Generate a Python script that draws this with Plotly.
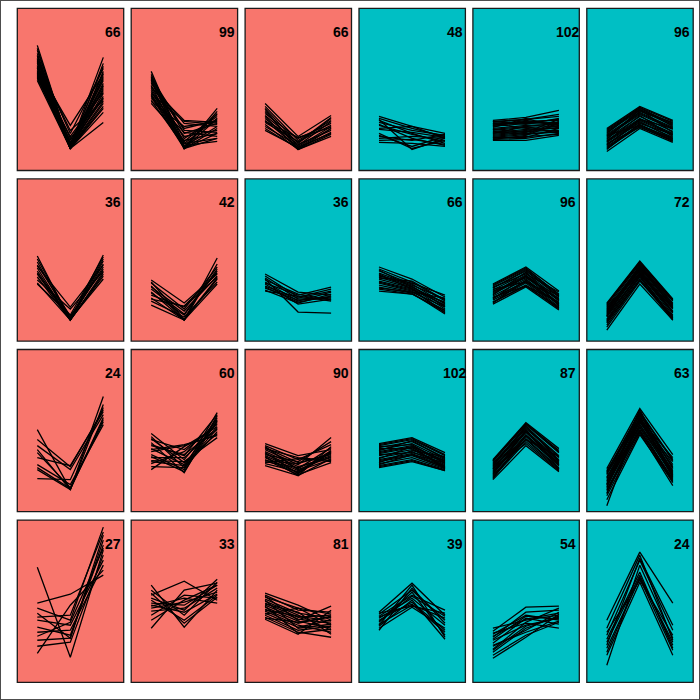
import plotly.graph_objects as go

# Conditions on the x axis (three time points / samples)
STAGES = [1, 2, 3]

# Cluster sizes shown in each panel (row by row)
COUNTS = [
    [66, 99, 66, 48, 102, 96],
    [36, 42, 36, 66, 96, 72],
    [24, 60, 90, 102, 87, 63],
    [27, 33, 81, 39, 54, 24],
]
# Group of each panel (A = salmon, B = teal)
GROUPS = [
    ["A", "A", "A", "B", "B", "B"],
    ["A", "A", "B", "B", "B", "B"],
    ["A", "A", "A", "B", "B", "B"],
    ["A", "A", "A", "B", "B", "B"],
]

# Profiles (value at stage 1, 2, 3)
R1C1 = [[4.4, -5.9, 1.8], [3.9, -5.7, 3.2], [3.6, -5.9, 2.6], [3.3, -5.4, 1.1], [3.1, -5.9, 0.1],
        [2.9, -4.4, 2.1], [2.6, -5.9, -0.4], [2.4, -5.7, 0.6], [2.3, -4.9, -0.9], [2.1, -5.9, -1.4],
        [1.9, -5.5, 0.9], [1.7, -5.9, -1.9], [1.5, -5.7, -0.7], [1.3, -5.9, -1.7], [1.1, -5.1, 0.3],
        [0.9, -5.9, -3.3], [2.1, -3.6, 1.5], [2.7, -4.1, -1.1], [3.4, -5.9, -2.3], [1.6, -4.7, -0.3],
        [4.1, -5.8, 1.3], [2.8, -5.6, 2.3], [1.8, -5.3, -0.1], [1.2, -5.8, -1.2],
        [3.0, -5.8, 1.6], [2.2, -5.9, 0.4], [1.4, -5.6, -0.9]]
R1C2 = [[1.8, -5.9, -1.9], [1.5, -5.4, -2.9], [1.3, -5.7, -2.4], [1.1, -4.4, -3.4], [0.9, -5.9, -3.9],
        [0.7, -4.9, -2.7], [0.6, -3.4, -3.7], [0.4, -5.9, -4.4], [0.3, -3.9, -3.1], [0.1, -5.4, -4.9],
        [-0.1, -5.9, -2.2], [-0.3, -4.7, -4.1], [-0.4, -3.2, -3.5], [-0.6, -5.6, -5.2], [-0.7, -5.9, -2.9],
        [-0.9, -4.3, -4.7], [-1.1, -5.7, -3.7], [-1.2, -3.7, -3.2], [-1.4, -5.1, -4.4], [1.0, -5.9, -4.9],
        [0.2, -3.1, -3.3], [-0.5, -5.2, -2.5], [1.2, -4.1, -4.3]]
R1C3 = [[-1.4, -4.7, -2.6], [-1.7, -5.1, -3.1], [-1.9, -5.4, -2.9], [-2.2, -5.7, -3.7], [-2.4, -4.9, -3.4],
        [-2.7, -6.0, -3.9], [-2.9, -5.5, -4.1], [-3.1, -5.8, -4.4], [-3.3, -5.2, -3.6], [-3.5, -6.0, -4.7],
        [-3.7, -5.6, -3.2], [-3.9, -5.9, -4.3], [-4.1, -5.8, -3.9], [-2.0, -6.0, -4.5], [-2.6, -5.3, -2.8],
        [-3.2, -4.8, -3.8]]
R1C4 = [[-2.7, -3.7, -4.9], [-2.9, -3.9, -4.7], [-3.1, -4.4, -5.4], [-3.3, -4.1, -4.6], [-3.6, -4.5, -5.2],
        [-3.9, -3.7, -4.4], [-4.4, -5.9, -5.1], [-4.6, -5.7, -4.7], [-4.9, -4.7, -4.9], [-5.1, -5.0, -5.5],
        [-5.3, -5.4, -5.7], [-3.5, -4.9, -5.6], [-3.0, -6.0, -4.9], [-4.0, -4.3, -4.8], [-4.7, -5.1, -4.5]]
R1C5 = [[-3.1, -2.8, -2.1], [-3.3, -3.0, -2.7], [-3.5, -3.2, -3.1], [-3.7, -3.4, -3.3], [-3.9, -3.6, -3.5],
        [-4.1, -3.8, -3.7], [-4.3, -4.0, -3.9], [-4.5, -4.2, -4.1], [-4.7, -4.4, -4.3], [-4.9, -4.7, -4.5],
        [-5.1, -5.1, -4.6], [-3.2, -3.5, -2.9], [-3.6, -3.1, -3.6], [-4.0, -4.3, -3.0], [-4.4, -3.7, -4.4],
        [-4.8, -4.8, -3.9], [-5.0, -4.6, -3.4], [-3.4, -3.9, -4.2], [-4.2, -4.5, -3.2], [-3.8, -2.9, -3.8],
        [-3.2, -3.0, -2.5], [-3.6, -3.3, -3.0], [-4.0, -3.7, -3.4], [-4.4, -4.1, -3.8], [-4.8, -4.5, -4.2],
        [-3.4, -3.3, -3.4], [-4.6, -4.3, -3.6], [-5.0, -4.9, -4.4]]
R1C6 = [[-3.9, -1.7, -3.1], [-4.1, -1.9, -3.4], [-4.3, -2.1, -3.6], [-4.5, -2.3, -3.8], [-4.7, -2.5, -4.0],
        [-4.9, -2.7, -4.2], [-5.1, -2.9, -4.4], [-5.3, -3.1, -4.6], [-5.5, -3.3, -4.8], [-5.7, -3.5, -5.0],
        [-5.9, -3.7, -5.2], [-6.2, -3.9, -5.3], [-4.4, -1.8, -3.7], [-4.8, -2.2, -3.3], [-5.2, -2.6, -4.7],
        [-5.6, -3.0, -3.9], [-6.0, -3.4, -4.5], [-4.6, -3.6, -4.9], [-5.4, -3.8, -5.1], [-5.0, -2.0, -4.3],
        [-4.0, -1.8, -3.2], [-4.6, -2.4, -3.9], [-5.2, -3.0, -4.5], [-5.8, -3.6, -5.1], [-4.2, -2.0, -3.5],
        [-5.5, -3.2, -4.9]]
R2C1 = [[0.4, -6.0, 0.5], [0.1, -5.8, 0.1], [-0.2, -6.0, -0.4], [-0.5, -5.6, -0.9], [-0.8, -6.0, -1.4],
        [-1.1, -5.9, -1.9], [-1.4, -5.8, -0.7], [-1.7, -6.0, -0.1], [-2.0, -4.9, -1.1], [-2.3, -6.0, -1.6],
        [-2.4, -5.5, 0.3], [-0.6, -4.7, -0.5], [-1.3, -6.0, -1.2]]
R2C2 = [[-2.0, -4.3, -1.4], [-2.3, -4.9, -0.7], [-2.6, -6.0, 0.2], [-2.9, -5.4, -1.1], [-3.2, -6.0, -1.9],
        [-3.5, -4.7, -1.7], [-3.8, -6.0, -0.4], [-4.1, -5.7, -2.2], [-4.5, -6.0, -2.4], [-2.7, -5.1, -1.6],
        [-3.3, -5.5, -0.9], [-3.9, -4.6, -1.3], [-2.2, -5.9, -1.8]]
R2C3 = [[-1.4, -3.2, -3.5], [-1.6, -3.7, -2.9], [-1.8, -3.9, -3.7], [-2.0, -3.4, -4.0], [-2.2, -4.1, -3.2],
        [-2.4, -4.4, -3.9], [-2.6, -3.8, -3.1], [-2.8, -4.0, -3.8], [-3.0, -4.3, -3.4], [-3.1, -3.6, -4.1],
        [-1.9, -5.2, -5.3], [-2.3, -3.5, -2.7], [-2.7, -4.2, -3.6]]
R2C4 = [[-0.7, -1.9, -3.7], [-0.9, -2.2, -4.1], [-1.1, -2.4, -4.4], [-1.3, -2.5, -3.9], [-1.5, -2.6, -4.7],
        [-1.7, -2.7, -4.3], [-1.9, -2.8, -4.9], [-2.1, -2.9, -4.5], [-2.3, -3.1, -5.1], [-2.5, -3.2, -4.7],
        [-2.7, -3.3, -5.4], [-2.9, -3.4, -5.0], [-3.1, -3.4, -5.2], [-1.0, -2.7, -4.6], [-1.6, -2.3, -3.5],
        [-2.2, -3.0, -4.2], [-2.8, -3.2, -3.8], [-1.4, -2.9, -5.3], [-1.8, -2.1, -4.0]]
R2C5 = [[-2.4, -0.7, -3.1], [-2.6, -0.9, -3.4], [-2.8, -1.1, -3.7], [-3.0, -1.3, -3.9], [-3.2, -1.5, -4.1],
        [-3.4, -1.7, -4.3], [-3.6, -1.9, -4.5], [-3.8, -2.1, -4.7], [-4.0, -2.3, -4.8], [-4.2, -2.5, -4.9],
        [-4.4, -2.7, -5.0], [-2.7, -1.4, -3.2], [-3.1, -1.8, -3.6], [-3.5, -1.2, -4.6], [-3.9, -1.6, -4.0],
        [-4.3, -2.0, -4.4], [-2.9, -2.2, -3.8], [-3.7, -2.6, -4.2], [-2.5, -0.8, -3.5],
        [-2.8, -1.0, -3.6], [-3.3, -1.6, -4.0], [-3.8, -2.2, -4.4], [-4.2, -2.6, -4.8]]
R2C6 = [[-4.3, -0.1, -3.9], [-4.5, -0.3, -4.1], [-4.7, -0.4, -4.3], [-4.9, -0.6, -4.5], [-5.1, -0.7, -4.7],
        [-5.3, -0.9, -4.9], [-5.5, -1.0, -5.1], [-5.7, -1.2, -5.3], [-5.9, -1.3, -5.5], [-6.1, -1.5, -5.7],
        [-6.3, -1.7, -5.9], [-6.5, -1.9, -6.0], [-7.0, -2.4, -6.0], [-6.7, -2.1, -5.8], [-4.8, -1.1, -5.2],
        [-5.6, -0.5, -4.4], [-6.2, -2.0, -5.6], [-4.6, -1.4, -4.8], [-5.4, -0.8, -4.0],
        [-4.4, -0.2, -4.0], [-5.0, -0.8, -4.6], [-5.6, -1.4, -5.2], [-6.0, -1.6, -5.8], [-5.2, -0.6, -4.8]]
R3C1 = [[0.1, -5.9, 3.4], [-0.9, -3.6, 2.1], [-1.5, -3.9, 1.6], [-1.9, -5.9, 2.6], [-2.2, -5.7, 1.1],
        [-2.7, -3.5, 1.9], [-3.4, -5.4, 0.6], [-3.9, -5.9, 1.3], [-4.8, -4.9, 2.3], [-3.7, -5.8, 0.9]]
R3C2 = [[-0.3, -2.9, 1.1], [-0.6, -3.7, 1.8], [-0.9, -1.9, 0.6], [-1.2, -4.2, 1.5], [-1.5, -2.4, 0.1],
        [-1.8, -3.4, 0.9], [-2.1, -1.5, -0.4], [-2.4, -3.9, 1.3], [-2.7, -2.7, 0.3], [-3.0, -3.1, -0.7],
        [-3.3, -2.1, 0.7], [-3.6, -3.7, -0.1], [-3.9, -1.6, 0.4], [-0.8, -3.2, -0.3], [-1.9, -1.4, -0.5],
        [-2.6, -4.1, 1.0], [-1.4, -2.5, 1.6], [-3.1, -3.5, 0.2]]
R3C3 = [[-1.3, -2.5, -1.9], [-1.5, -2.9, -1.4], [-1.7, -3.2, -2.4], [-1.9, -3.4, -0.7], [-2.1, -3.6, -2.7],
        [-2.3, -3.8, -1.7], [-2.5, -4.0, -2.9], [-2.7, -4.2, -2.2], [-2.9, -4.4, -3.2], [-3.1, -3.7, -2.5],
        [-3.3, -4.1, -2.0], [-3.5, -4.5, -2.8], [-1.8, -2.7, -3.0], [-2.4, -3.1, -1.1], [-3.0, -3.3, -2.3],
        [-1.6, -3.9, -2.6], [-2.6, -4.5, -1.6], [-3.2, -2.8, -3.1], [-2.2, -4.3, -2.1]]
R3C4 = [[-1.3, -0.7, -2.2], [-1.5, -0.9, -2.5], [-1.7, -1.1, -2.7], [-1.9, -1.3, -2.9], [-2.1, -1.5, -3.1],
        [-2.3, -1.7, -3.2], [-2.5, -1.9, -3.4], [-2.7, -2.1, -3.5], [-2.9, -2.3, -3.6], [-3.1, -2.5, -3.7],
        [-3.3, -2.7, -3.8], [-3.5, -2.9, -3.9], [-3.7, -3.1, -4.0], [-1.6, -1.4, -3.3], [-2.0, -1.0, -2.8],
        [-2.4, -2.2, -3.0], [-2.8, -1.6, -3.8], [-3.2, -2.0, -2.6], [-1.8, -1.8, -3.6], [-3.4, -2.4, -3.2],
        [-1.4, -0.8, -2.4], [-2.2, -1.6, -3.0], [-3.0, -2.4, -3.7], [-3.6, -3.0, -4.0]]
R3C5 = [[-2.9, 0.8, -1.8], [-3.1, 0.6, -2.2], [-3.3, 0.4, -2.5], [-3.5, 0.2, -2.7], [-3.7, 0.0, -2.9],
        [-3.9, -0.2, -3.1], [-4.1, -0.4, -3.3], [-4.3, -0.6, -3.5], [-4.5, -0.8, -3.7], [-4.7, -1.1, -3.9],
        [-4.9, -1.5, -4.1], [-3.2, -0.1, -3.4], [-3.6, 0.5, -3.0], [-4.0, -0.9, -2.6], [-4.4, 0.1, -3.8],
        [-4.8, -0.5, -3.2], [-3.0, 0.7, -2.1], [-3.8, -1.3, -4.0],
        [-3.0, 0.7, -2.0], [-3.4, 0.3, -2.6], [-3.8, -0.1, -3.0], [-4.2, -0.5, -3.4], [-4.6, -0.9, -3.8]]
R3C6 = [[-3.8, 2.2, -2.4], [-4.1, 1.9, -2.9], [-4.4, 1.6, -3.4], [-4.7, 1.3, -3.7], [-5.0, 1.1, -4.0],
        [-5.3, 0.9, -4.3], [-5.6, 0.6, -4.6], [-5.9, 0.3, -4.9], [-6.2, 0.1, -5.2], [-6.5, -0.2, -5.5],
        [-6.9, -0.4, -5.1], [-7.5, 1.5, -4.7], [-4.3, 0.8, -3.1], [-5.1, 0.4, -4.4], [-5.7, 1.7, -3.8],
        [-4.6, -0.1, -5.0], [-6.3, 1.0, -4.1], [-4.0, 1.2, -2.7], [-5.4, 2.1, -4.5],
        [-4.2, 1.8, -3.0], [-4.8, 1.2, -3.6], [-5.4, 0.6, -4.2], [-6.0, 0.0, -4.8]]
R4C1 = [[3.4, -5.6, 5.1], [-0.2, 0.7, 2.6], [-0.7, -1.9, 7.4], [-1.2, -3.7, 6.1], [-1.9, -2.4, 4.1],
        [-2.6, -3.4, 5.6], [-3.1, -2.9, 3.6], [-3.9, -3.7, 6.6], [-4.5, -4.1, 4.6], [-5.2, -0.4, 3.1],
        [-1.6, -1.4, 6.9], [-3.5, -2.1, 5.3]]
R4C2 = [[1.6, -2.6, 1.1], [1.1, -1.4, 1.9], [0.6, 2.0, 0.1], [0.3, -0.9, 2.2], [0.1, -1.9, 0.6],
        [-0.2, -0.4, 1.6], [-0.5, 0.3, -0.2], [-0.7, -0.1, 0.9], [-1.0, -0.7, 1.3], [-1.4, 0.6, 0.3],
        [-1.9, 0.1, 1.6], [-2.7, 1.1, 1.8], [0.8, -2.2, 0.4], [-0.4, -1.1, 0.7]]
R4C3 = [[0.8, -0.4, -1.9], [0.6, -0.9, -1.1], [0.4, -0.7, -2.4], [0.2, -1.2, -1.7], [0.0, -1.4, -2.9],
        [-0.2, -1.6, -1.4], [-0.4, -1.8, -2.2], [-0.6, -2.0, -2.7], [-0.8, -2.2, -1.5], [-1.0, -2.4, -3.1],
        [-1.2, -2.6, -1.9], [-1.4, -2.9, -2.5], [-1.6, -3.1, -3.6], [-1.8, -3.3, -0.9], [0.5, -1.9, -0.5],
        [-0.3, -1.1, -3.3], [-0.9, -1.5, -2.0], [-1.3, -0.7, -1.3], [0.1, -2.7, -2.3], [-0.5, -3.2, -2.8],
        [-1.7, -2.1, -1.6]]
R4C4 = [[-1.1, 1.8, -1.4], [-1.3, 1.1, -1.9], [-1.5, 0.6, -0.9], [-1.7, 0.3, -2.4], [-1.9, -0.1, -2.9],
        [-2.1, 0.9, -3.4], [-2.3, -0.4, -1.7], [-2.5, 0.1, -3.8], [-2.7, -0.6, -2.7], [-2.9, 1.3, -2.2],
        [-1.6, -0.3, -3.1], [-2.0, 0.5, -1.5], [-2.4, 1.6, -3.6], [-1.2, -0.5, -1.2]]
R4C5 = [[-2.7, -1.9, -1.4], [-3.0, -0.6, -0.5], [-3.3, -1.4, -1.9], [-3.6, -1.1, -0.9], [-3.9, -2.4, -1.7],
        [-4.2, -1.7, -2.3], [-4.5, -2.9, -1.1], [-4.8, -2.1, -0.7], [-5.1, -2.7, -1.5], [-5.4, -3.4, -2.1],
        [-5.7, -3.6, -1.3], [-3.2, -2.2, -2.7], [-3.8, -1.5, -1.8], [-4.4, -3.1, -2.0], [-4.9, -2.5, -1.6],
        [-3.5, -1.8, -1.2]]
R4C6 = [[-1.9, 4.9, -0.2], [-2.7, 4.6, -3.9], [-3.4, 4.1, -2.9], [-4.1, 2.6, -4.4], [-4.7, 2.3, -4.9],
        [-5.4, 1.9, -5.4], [-6.4, 3.6, -3.7], [-3.1, 2.1, -3.4], [-3.8, 2.9, -4.7], [-4.4, 4.3, -2.4],
        [-5.1, 2.4, -4.1]]

PANELS = [
    [R1C1, R1C2, R1C3, R1C4, R1C5, R1C6],
    [R2C1, R2C2, R2C3, R2C4, R2C5, R2C6],
    [R3C1, R3C2, R3C3, R3C4, R3C5, R3C6],
    [R4C1, R4C2, R4C3, R4C4, R4C5, R4C6],
]

FILL = {"A": "#F8766D", "B": "#00BFC4"}
W = H = 700
COL_LEFT, COL_PITCH, PANEL_W = 17.3, 113.9, 106.4
ROW_TOP, ROW_PITCH, PANEL_H = 8.3, 170.6, 162.2
X_RANGE = [0.394, 3.618]
Y_RANGE = [-8.1, 8.1]

fig = go.Figure()
layout = {}
shapes = []
annotations = []
k = 0
for r in range(4):
    for c in range(6):
        k += 1
        sfx = "" if k == 1 else str(k)
        x0 = COL_LEFT + c * COL_PITCH
        y0 = ROW_TOP + r * ROW_PITCH
        layout["xaxis" + sfx] = dict(
            domain=[x0 / W, (x0 + PANEL_W) / W], range=X_RANGE, anchor="y" + sfx,
            showgrid=False, zeroline=False, showticklabels=False, ticks="",
            showline=False, fixedrange=True)
        layout["yaxis" + sfx] = dict(
            domain=[1 - (y0 + PANEL_H) / H, 1 - y0 / H], range=Y_RANGE, anchor="x" + sfx,
            showgrid=False, zeroline=False, showticklabels=False, ticks="",
            showline=False, fixedrange=True)
        shapes.append(dict(
            type="rect", xref="x" + sfx + " domain", yref="y" + sfx + " domain",
            x0=0, x1=1, y0=0, y1=1, fillcolor=FILL[GROUPS[r][c]],
            line=dict(color="#1a1a1a", width=1.3), layer="below"))
        xs, ys = [], []
        for prof in PANELS[r][c]:
            xs += STAGES + [None]
            ys += list(prof) + [None]
        fig.add_trace(go.Scatter(
            x=xs, y=ys, mode="lines", xaxis="x" + sfx, yaxis="y" + sfx,
            line=dict(color="black", width=1.3), hoverinfo="skip", showlegend=False))
        annotations.append(dict(
            x=3.29, y=5.75, xref="x" + sfx, yref="y" + sfx, text="<b>%d</b>" % COUNTS[r][c],
            showarrow=False, xanchor="center", yanchor="middle",
            font=dict(family="Liberation Sans, Arial, sans-serif", size=14, color="black")))

shapes.append(dict(type="rect", xref="paper", yref="paper", x0=0, x1=1, y0=0, y1=1,
                   line=dict(color="#4d4d4d", width=2), fillcolor="rgba(0,0,0,0)", layer="above"))

fig.update_layout(
    width=W, height=H, margin=dict(l=0, r=0, t=0, b=0),
    paper_bgcolor="white", plot_bgcolor="rgba(0,0,0,0)",
    showlegend=False, shapes=shapes, annotations=annotations, **layout)

fig.write_html("out.html")
